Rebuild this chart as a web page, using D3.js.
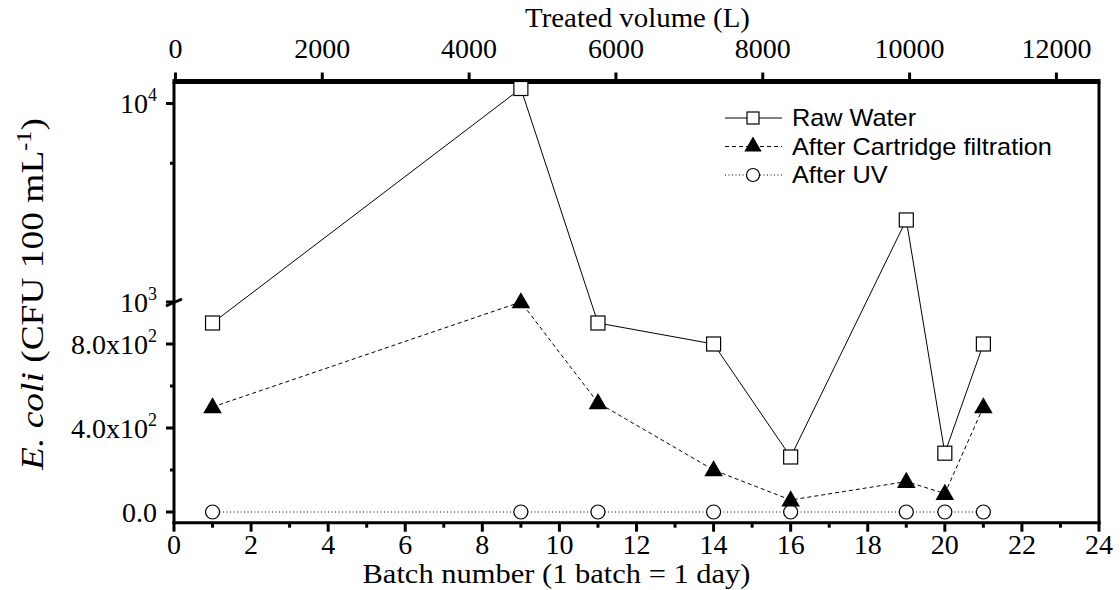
<!DOCTYPE html>
<html><head><meta charset="utf-8">
<script src="https://cdn.jsdelivr.net/npm/d3@7"></script>
<style>body{margin:0;background:#fff}svg{display:block}</style>
</head><body>
<svg id="c" width="1120" height="590"></svg>
<script>
const batches = [1, 9, 11, 14, 16, 19, 20, 21];
const rawWater = [900, 11900, 900, 800, 262, 2590, 280, 800];
const cartridge = [500, 1000, 520, 200, 57, 145, 88, 500];
const afterUV = [0, 0, 0, 0, 0, 0, 0, 0];
const seriesNames = ["Raw Water", "After Cartridge filtration", "After UV"];
const batchTicks = [0,2,4,6,8,10,12,14,16,18,20,22,24];
const volumeTicks = [0,2000,4000,6000,8000,10000,12000];
const linTicks = [{v:0,t:"0.0"},{v:400,t:"4.0x10",s:"2"},{v:800,t:"8.0x10",s:"2"}];
const logTicks = [{v:1000,t:"10",s:"3"},{v:10000,t:"10",s:"4"}];

const svg = d3.select("#c");
const L = 174, R = 1099, T = 81.5, B = 522.7;
const x = d3.scaleLinear().domain([0,24]).range([L,R]);
const xTop = d3.scaleLinear().domain([-20,12580]).range([L,R]);
const yLin = d3.scaleLinear().domain([0,1000]).range([512,302]);
const yLog = d3.scaleLog().domain([1000,10000]).range([302,103.5]);
const y = v => v <= 1000 ? yLin(v) : yLog(v);
const serif = "'Liberation Serif','Times New Roman',serif";
const sans = "'Liberation Sans',Arial,sans-serif";
const FS = 28;

// axes lines
svg.append("line").attr("x1",L-1.5).attr("x2",R+1.5).attr("y1",B).attr("y2",B).attr("stroke","#000").attr("stroke-width",3);
svg.append("line").attr("x1",L).attr("x2",L).attr("y1",T).attr("y2",B+1.5).attr("stroke","#000").attr("stroke-width",3);
svg.append("line").attr("x1",R).attr("x2",R).attr("y1",T).attr("y2",B+1.5).attr("stroke","#000").attr("stroke-width",3);
svg.append("line").attr("x1",L-1.5).attr("x2",R+1.5).attr("y1",T).attr("y2",T).attr("stroke","#000").attr("stroke-width",5);

// bottom ticks
for (let i=0;i<=24;i++){
  const major = i%2===0;
  svg.append("line").attr("x1",x(i)).attr("x2",x(i)).attr("y1",B).attr("y2",B+(major?9:5)).attr("stroke","#000").attr("stroke-width",3);
}
svg.append("g").selectAll("text").data(batchTicks).join("text")
  .attr("x",d=>x(d)).attr("y",554).attr("text-anchor","middle")
  .attr("font-family",serif).attr("font-size",FS).text(d=>d);

function stretched(parent, cx, cy, rot, targetW, build){
  const g = parent.append("g");
  const t = g.append("text").attr("text-anchor","middle");
  build(t);
  const w = t.node().getComputedTextLength();
  const s = targetW / w;
  g.attr("transform",`translate(${cx},${cy}) rotate(${rot}) scale(${s},1)`);
  return g;
}
stretched(svg, 556.5, 583, 0, 388, t=>t.attr("font-family",serif).attr("font-size",FS).text("Batch number (1 batch = 1 day)"));

// top ticks
svg.append("g").selectAll("line").data(volumeTicks).join("line")
  .attr("x1",d=>xTop(d)).attr("x2",d=>xTop(d)).attr("y1",T).attr("y2",T-9).attr("stroke","#000").attr("stroke-width",3);
svg.append("g").selectAll("text").data(volumeTicks).join("text")
  .attr("x",d=>xTop(d)).attr("y",58).attr("text-anchor","middle")
  .attr("font-family",serif).attr("font-size",28).text(d=>d);
stretched(svg, 637.5, 27, 0, 225, t=>t.attr("font-family",serif).attr("font-size",27).text("Treated volume (L)"));

// left ticks
const majorLeft = linTicks.map(d=>y(d.v)).concat(logTicks.map(d=>y(d.v)));
const minorLeft = [200,600,5000].map(y);
majorLeft.forEach(p=>svg.append("line").attr("x1",L-8).attr("x2",L).attr("y1",p).attr("y2",p).attr("stroke","#000").attr("stroke-width",3));
minorLeft.forEach(p=>svg.append("line").attr("x1",L-4).attr("x2",L).attr("y1",p).attr("y2",p).attr("stroke","#000").attr("stroke-width",3));
// break mark
svg.append("line").attr("x1",L-8).attr("x2",L+8).attr("y1",y(1000)+4).attr("y2",y(1000)-3).attr("stroke","#000").attr("stroke-width",3);

function tickLabel(d){
  const t = svg.append("text").attr("x",157).attr("y",y(d.v)+9.5).attr("text-anchor","end")
    .attr("font-family",serif).attr("font-size",28);
  t.append("tspan").text(d.t);
  if (d.s) t.append("tspan").attr("dy",-12).attr("font-size",18).text(d.s);
}
linTicks.concat(logTicks).forEach(tickLabel);

// y title
stretched(svg, 43, 294, -90, 352, t=>{
  t.attr("font-family",serif).attr("font-size",31);
  t.append("tspan").attr("font-style","italic").text("E. coli");
  t.append("tspan").text(" (CFU 100 mL");
  t.append("tspan").attr("dy",-12).attr("font-size",20).text("-1");
  t.append("tspan").attr("dy",12).text(")");
});

// series
const line = d3.line().x(d=>x(d[0])).y(d=>y(d[1]));
const mk = arr => batches.map((b,i)=>[b,arr[i]]);
svg.append("path").attr("d",line(mk(afterUV))).attr("fill","none").attr("stroke","#000").attr("stroke-width",1).attr("stroke-dasharray","1,2.5");
svg.append("path").attr("d",line(mk(cartridge))).attr("fill","none").attr("stroke","#000").attr("stroke-width",1).attr("stroke-dasharray","4,3");
svg.append("path").attr("d",line(mk(rawWater))).attr("fill","none").attr("stroke","#000").attr("stroke-width",1);

const tri = d3.symbol().type(d3.symbolTriangle).size(150);
function square(g,cx,cy){g.append("rect").attr("x",cx-7).attr("y",cy-7).attr("width",14).attr("height",14).attr("fill","#fff").attr("stroke","#000").attr("stroke-width",1.2);}
function circle(g,cx,cy){g.append("circle").attr("cx",cx).attr("cy",cy).attr("r",7).attr("fill","#fff").attr("stroke","#000").attr("stroke-width",1.2);}
function triangle(g,cx,cy){g.append("path").attr("d",tri()).attr("transform",`translate(${cx},${cy+1})`).attr("fill","#000");}
mk(afterUV).forEach(d=>circle(svg,x(d[0]),y(d[1])));
mk(cartridge).forEach(d=>triangle(svg,x(d[0]),y(d[1])));
mk(rawWater).forEach(d=>square(svg,x(d[0]),y(d[1])));

// legend
const lg = [{dash:null},{dash:"4,3"},{dash:"1,2.5"}];
lg.forEach((d,i)=>{
  const yy = 118 + i*28.5;
  const ln = svg.append("line").attr("x1",725).attr("x2",782).attr("y1",yy).attr("y2",yy).attr("stroke","#000").attr("stroke-width",1);
  if (d.dash) ln.attr("stroke-dasharray",d.dash);
  if (i===0){ svg.append("rect").attr("x",747).attr("y",yy-6).attr("width",12).attr("height",12).attr("fill","#fff").attr("stroke","#000").attr("stroke-width",1.2); }
  else if (i===1){ svg.append("path").attr("d",d3.symbol().type(d3.symbolTriangle).size(130)()).attr("transform",`translate(753,${yy})`).attr("fill","#000"); }
  else { svg.append("circle").attr("cx",753).attr("cy",yy).attr("r",6.5).attr("fill","#fff").attr("stroke","#000").attr("stroke-width",1.2); }
  svg.append("g").attr("transform",`translate(792,${yy+8})`).append("text").attr("transform","scale(1.1,1)")
    .attr("font-family",sans).attr("font-size",23).text(seriesNames[i]);
});
</script>
</body></html>
